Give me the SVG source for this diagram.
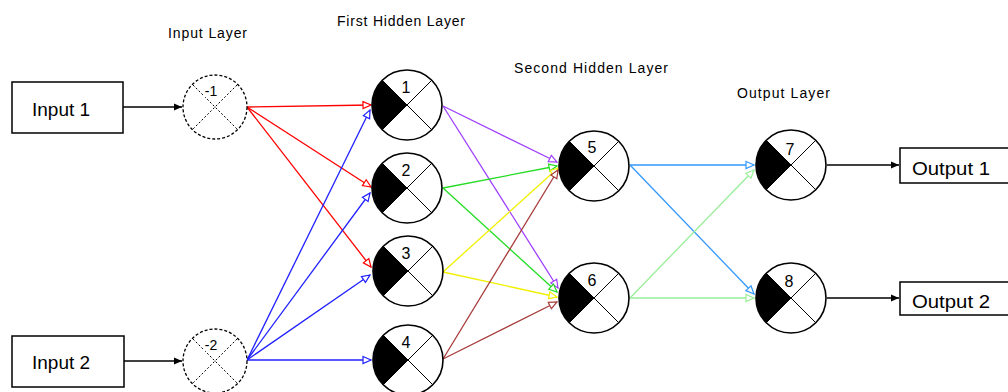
<svg xmlns="http://www.w3.org/2000/svg" width="1008" height="392" viewBox="0 0 1008 392">
<style>
.box{fill:#fff;stroke:#000;stroke-width:1.5}
.bt{font-family:"Liberation Sans",Arial,sans-serif;font-size:19px;fill:#000}
.lt{font-family:"Liberation Sans",Arial,sans-serif;font-size:14px;fill:#000}
.nt{font-family:"Liberation Sans",Arial,sans-serif;font-size:16px;fill:#000;text-anchor:middle}
.it{font-family:"Liberation Sans",Arial,sans-serif;font-size:14px;fill:#000;text-anchor:middle}
.nc{fill:#fff;stroke:#000;stroke-width:1.6}
.ic{fill:#fff;stroke:#000;stroke-width:1.3;stroke-dasharray:3 2}
.x{stroke:#000;stroke-width:1}
.xd{stroke:#000;stroke-width:1;stroke-dasharray:2 2}
.c{fill:none;stroke-width:1.3}
</style>
<defs>
<marker id="ak" markerWidth="10" markerHeight="10" refX="9" refY="5" orient="auto" markerUnits="userSpaceOnUse"><path d="M1,1.5 L9,5 L1,8.5 Z" fill="#000"/></marker>
<marker id="ar" markerWidth="10" markerHeight="10" refX="9" refY="5" orient="auto" markerUnits="userSpaceOnUse"><path d="M1,1.5 L9,5 L1,8.5 Z" fill="#fff" stroke="#ff0000" stroke-width="1.2"/></marker>
<marker id="ab" markerWidth="10" markerHeight="10" refX="9" refY="5" orient="auto" markerUnits="userSpaceOnUse"><path d="M1,1.5 L9,5 L1,8.5 Z" fill="#fff" stroke="#2020ff" stroke-width="1.2"/></marker>
<marker id="ap" markerWidth="10" markerHeight="10" refX="9" refY="5" orient="auto" markerUnits="userSpaceOnUse"><path d="M1,1.5 L9,5 L1,8.5 Z" fill="#fff" stroke="#a040ff" stroke-width="1.2"/></marker>
<marker id="ag" markerWidth="10" markerHeight="10" refX="9" refY="5" orient="auto" markerUnits="userSpaceOnUse"><path d="M1,1.5 L9,5 L1,8.5 Z" fill="#fff" stroke="#22dd22" stroke-width="1.2"/></marker>
<marker id="ay" markerWidth="10" markerHeight="10" refX="9" refY="5" orient="auto" markerUnits="userSpaceOnUse"><path d="M1,1.5 L9,5 L1,8.5 Z" fill="#fff" stroke="#f0f000" stroke-width="1.2"/></marker>
<marker id="an" markerWidth="10" markerHeight="10" refX="9" refY="5" orient="auto" markerUnits="userSpaceOnUse"><path d="M1,1.5 L9,5 L1,8.5 Z" fill="#fff" stroke="#a83c3c" stroke-width="1.2"/></marker>
<marker id="al" markerWidth="10" markerHeight="10" refX="9" refY="5" orient="auto" markerUnits="userSpaceOnUse"><path d="M1,1.5 L9,5 L1,8.5 Z" fill="#fff" stroke="#3399ff" stroke-width="1.2"/></marker>
<marker id="am" markerWidth="10" markerHeight="10" refX="9" refY="5" orient="auto" markerUnits="userSpaceOnUse"><path d="M1,1.5 L9,5 L1,8.5 Z" fill="#fff" stroke="#99ee99" stroke-width="1.2"/></marker>
</defs>
<rect width="1008" height="392" fill="#fff"/>

<g id="layer-labels">
<text class="lt" x="168" y="38" textLength="79" lengthAdjust="spacing">Input Layer</text>
<text class="lt" x="337" y="26" textLength="128" lengthAdjust="spacing">First Hidden Layer</text>
<text class="lt" x="514" y="73" textLength="154" lengthAdjust="spacing">Second Hidden Layer</text>
<text class="lt" x="737" y="98" textLength="93" lengthAdjust="spacing">Output Layer</text>
</g>

<g id="connectors">
<line x1="123" y1="107" x2="182" y2="107" stroke="#000" stroke-width="1.5" marker-end="url(#ak)"/>
<line x1="124" y1="361" x2="182" y2="361" stroke="#000" stroke-width="1.5" marker-end="url(#ak)"/>
<line x1="827" y1="165" x2="899" y2="165" stroke="#000" stroke-width="1.5" marker-end="url(#ak)"/>
<line x1="827" y1="298" x2="899" y2="298" stroke="#000" stroke-width="1.5" marker-end="url(#ak)"/>

<line class="c" stroke="#ff0000" x1="247" y1="107" x2="371" y2="105" marker-end="url(#ar)"/>
<line class="c" stroke="#ff0000" x1="247" y1="107" x2="371" y2="187" marker-end="url(#ar)"/>
<line class="c" stroke="#ff0000" x1="247" y1="107" x2="371" y2="267" marker-end="url(#ar)"/>

<line class="c" stroke="#2020ff" x1="247" y1="360" x2="370" y2="110" marker-end="url(#ab)"/>
<line class="c" stroke="#2020ff" x1="247" y1="360" x2="370" y2="193" marker-end="url(#ab)"/>
<line class="c" stroke="#2020ff" x1="247" y1="360" x2="370" y2="275" marker-end="url(#ab)"/>
<line class="c" stroke="#2020ff" x1="247" y1="360" x2="371" y2="360" marker-end="url(#ab)"/>

<line class="c" stroke="#a040ff" x1="443" y1="106" x2="557" y2="162" marker-end="url(#ap)"/>
<line class="c" stroke="#a040ff" x1="443" y1="106" x2="558" y2="288" marker-end="url(#ap)"/>
<line class="c" stroke="#22dd22" x1="443" y1="188" x2="557" y2="166" marker-end="url(#ag)"/>
<line class="c" stroke="#22dd22" x1="443" y1="188" x2="557" y2="292" marker-end="url(#ag)"/>
<line class="c" stroke="#f0f000" x1="443" y1="272" x2="558" y2="168" marker-end="url(#ay)"/>
<line class="c" stroke="#f0f000" x1="443" y1="272" x2="557" y2="297" marker-end="url(#ay)"/>
<line class="c" stroke="#a83c3c" x1="443" y1="359" x2="558" y2="170" marker-end="url(#an)"/>
<line class="c" stroke="#a83c3c" x1="443" y1="359" x2="557" y2="302" marker-end="url(#an)"/>

<line class="c" stroke="#3399ff" x1="630" y1="165" x2="754" y2="165" marker-end="url(#al)"/>
<line class="c" stroke="#3399ff" x1="630" y1="165" x2="754" y2="294" marker-end="url(#al)"/>
<line class="c" stroke="#99ee99" x1="630" y1="298" x2="754" y2="170" marker-end="url(#am)"/>
<line class="c" stroke="#99ee99" x1="630" y1="298" x2="754" y2="298" marker-end="url(#am)"/>
</g>

<g id="input1">
<rect class="box" x="12" y="82" width="111" height="51"/>
<text class="bt" x="32" y="116">Input 1</text>
</g>
<g id="input2">
<rect class="box" x="12" y="336" width="112" height="51"/>
<text class="bt" x="32" y="369">Input 2</text>
</g>

<g id="node-minus1">
<circle class="ic" cx="215" cy="107" r="32"/>
<line class="xd" x1="193" y1="85" x2="237" y2="129"/>
<line class="xd" x1="237" y1="85" x2="193" y2="129"/>
<rect x="203" y="84" width="16" height="13" fill="#fff"/>
<text class="it" x="211" y="96">-1</text>
</g>
<g id="node-minus2">
<circle class="ic" cx="215" cy="361" r="32"/>
<line class="xd" x1="193" y1="339" x2="237" y2="383"/>
<line class="xd" x1="237" y1="339" x2="193" y2="383"/>
<rect x="203" y="338" width="16" height="13" fill="#fff"/>
<text class="it" x="211" y="350">-2</text>
</g>

<g id="node1">
<circle class="nc" cx="407" cy="105" r="35"/>
<path d="M407,105 L382.3,80.3 A35,35 0 0 0 382.3,129.7 Z" fill="#000"/>
<line class="x" x1="382.3" y1="80.3" x2="431.7" y2="129.7"/>
<line class="x" x1="431.7" y1="80.3" x2="382.3" y2="129.7"/>
<text class="nt" x="406" y="93">1</text>
</g>
<g id="node2">
<circle class="nc" cx="407" cy="188" r="35"/>
<path d="M407,188 L382.3,163.3 A35,35 0 0 0 382.3,212.7 Z" fill="#000"/>
<line class="x" x1="382.3" y1="163.3" x2="431.7" y2="212.7"/>
<line class="x" x1="431.7" y1="163.3" x2="382.3" y2="212.7"/>
<text class="nt" x="406" y="176">2</text>
</g>
<g id="node3">
<circle class="nc" cx="408" cy="271" r="35"/>
<path d="M408,271 L383.3,246.3 A35,35 0 0 0 383.3,295.7 Z" fill="#000"/>
<line class="x" x1="383.3" y1="246.3" x2="432.7" y2="295.7"/>
<line class="x" x1="432.7" y1="246.3" x2="383.3" y2="295.7"/>
<text class="nt" x="406" y="259">3</text>
</g>
<g id="node4">
<circle class="nc" cx="408" cy="360" r="35"/>
<path d="M408,360 L383.3,335.3 A35,35 0 0 0 383.3,384.7 Z" fill="#000"/>
<line class="x" x1="383.3" y1="335.3" x2="432.7" y2="384.7"/>
<line class="x" x1="432.7" y1="335.3" x2="383.3" y2="384.7"/>
<text class="nt" x="406" y="348">4</text>
</g>

<g id="node5">
<circle class="nc" cx="594" cy="166" r="35"/>
<path d="M594,166 L569.3,141.3 A35,35 0 0 0 569.3,190.7 Z" fill="#000"/>
<line class="x" x1="569.3" y1="141.3" x2="618.7" y2="190.7"/>
<line class="x" x1="618.7" y1="141.3" x2="569.3" y2="190.7"/>
<text class="nt" x="592" y="153">5</text>
</g>
<g id="node6">
<circle class="nc" cx="594" cy="298" r="35"/>
<path d="M594,298 L569.3,273.3 A35,35 0 0 0 569.3,322.7 Z" fill="#000"/>
<line class="x" x1="569.3" y1="273.3" x2="618.7" y2="322.7"/>
<line class="x" x1="618.7" y1="273.3" x2="569.3" y2="322.7"/>
<text class="nt" x="592" y="286">6</text>
</g>

<g id="node7">
<circle class="nc" cx="791" cy="165" r="35"/>
<path d="M791,165 L766.3,140.3 A35,35 0 0 0 766.3,189.7 Z" fill="#000"/>
<line class="x" x1="766.3" y1="140.3" x2="815.7" y2="189.7"/>
<line class="x" x1="815.7" y1="140.3" x2="766.3" y2="189.7"/>
<text class="nt" x="790" y="155">7</text>
</g>
<g id="node8">
<circle class="nc" cx="791" cy="298" r="35"/>
<path d="M791,298 L766.3,273.3 A35,35 0 0 0 766.3,322.7 Z" fill="#000"/>
<line class="x" x1="766.3" y1="273.3" x2="815.7" y2="322.7"/>
<line class="x" x1="815.7" y1="273.3" x2="766.3" y2="322.7"/>
<text class="nt" x="789" y="287">8</text>
</g>

<g id="output1">
<rect class="box" x="900" y="148" width="120" height="35"/>
<text class="bt" x="912" y="175" textLength="78" lengthAdjust="spacingAndGlyphs" font-size="20">Output 1</text>
</g>
<g id="output2">
<rect class="box" x="900" y="282" width="120" height="33"/>
<text class="bt" x="912" y="308" textLength="78" lengthAdjust="spacingAndGlyphs" font-size="20">Output 2</text>
</g>
</svg>
